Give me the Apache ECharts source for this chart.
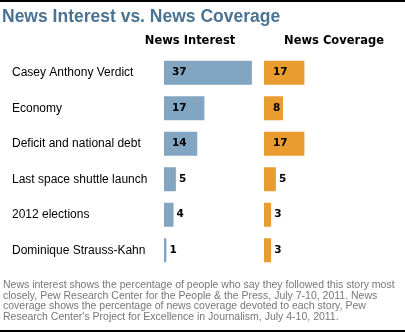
<!DOCTYPE html>
<html><head><meta charset="utf-8">
<script src="https://cdn.jsdelivr.net/npm/echarts@6/dist/echarts.min.js"></script>
<style>html,body{margin:0;padding:0;background:#fff}#c{width:405px;height:332px}</style>
</head><body><div id="c"></div>
<script>
const categories = ["Casey Anthony Verdict","Economy","Deficit and national debt","Last space shuttle launch","2012 elections","Dominique Strauss-Kahn"];
const newsInterest = [37,17,14,5,4,1];
const newsCoverage = [17,8,17,5,3,3];
const titleText = "News Interest vs. News Coverage";
const headers = ["News Interest","News Coverage"];
const footnote = ["News interest shows the percentage of people who say they followed this story most",
"closely, Pew Research Center for the People & the Press, July 7-10, 2011. News",
"coverage shows the percentage of news coverage devoted to each story, Pew",
"Research Center's Project for Excellence in Journalism, July 4-10, 2011."];

const FONT = "Liberation Sans, Arial, sans-serif";
const BOLDF = "DejaVu Sans, Verdana, sans-serif";
function mk(vals, insideMin, insideOff) {
  return vals.map(v => ({
    value: v,
    label: v >= insideMin
      ? {position: 'insideLeft', offset: [insideOff, 0]}
      : {position: 'right', distance: 3}
  }));
}
const chart = echarts.init(document.getElementById('c'), null, {renderer: 'canvas'});
const labelStyle = {show: true, color: '#000', fontWeight: 'bold', fontSize: 10.5, fontFamily: BOLDF};
chart.setOption({
  animation: false,
  grid: [
    {left: 164, width: 95, top: 55, height: 213},
    {left: 264, width: 95, top: 55, height: 213}
  ],
  xAxis: [
    {gridIndex: 0, type: 'value', min: 0, max: 40, show: false},
    {gridIndex: 1, type: 'value', min: 0, max: 40, show: false}
  ],
  yAxis: [
    {gridIndex: 0, type: 'category', data: categories, inverse: true,
     axisLine: {show: false}, axisTick: {show: false},
     axisLabel: {align: 'left', margin: 152, color: '#000', fontSize: 12, fontFamily: FONT, verticalAlign: 'middle', padding: [0,0,4,0]}},
    {gridIndex: 1, type: 'category', data: categories, inverse: true, show: false}
  ],
  series: [
    {type: 'bar', xAxisIndex: 0, yAxisIndex: 0, data: mk(newsInterest, 10, 3), barWidth: 24,
     itemStyle: {color: '#82a5c1'}, label: labelStyle},
    {type: 'bar', xAxisIndex: 1, yAxisIndex: 1, data: mk(newsCoverage, 8, 4), barWidth: 24,
     itemStyle: {color: '#e99d31'}, label: labelStyle}
  ],
  graphic: [
    {type: 'line', shape: {x1: 0, y1: 1, x2: 405, y2: 1}, style: {stroke: '#000', lineWidth: 2}},
    {type: 'line', shape: {x1: 0, y1: 331, x2: 405, y2: 331}, style: {stroke: '#000', lineWidth: 2}},
    {type: 'text', left: 2, top: 8, style: {text: titleText, fill: '#4a7292', font: "bold 17.5px " + FONT}},
    {type: 'text', x: 190, y: 41, style: {text: headers[0], fill: '#000', font: "bold 11.5px " + BOLDF, align: 'center', verticalAlign: 'middle'}},
    {type: 'text', x: 334, y: 41, style: {text: headers[1], fill: '#000', font: "bold 11.5px " + BOLDF, align: 'center', verticalAlign: 'middle'}},
    {type: 'text', left: 3, top: 280, style: {text: footnote.join('\n'), fill: '#777', font: "10.5px " + FONT, lineHeight: 10.5}}
  ]
});
</script></body></html>
